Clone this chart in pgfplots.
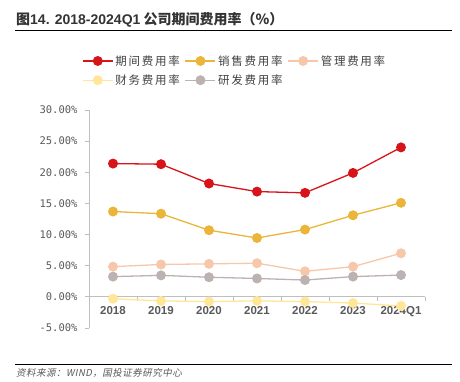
\documentclass[border=0pt]{standalone}
\usepackage{fontspec}
\usepackage{pgfplots}
\pgfplotsset{compat=1.18}
\setmainfont{Noto Sans CJK SC}
\newfontfamily\cjkit[FakeSlant=0.2,LetterSpace=5]{Noto Sans CJK SC}
\newfontfamily\legfont[LetterSpace=15]{Noto Sans CJK SC}
\newfontfamily\titlefont{Liberation Sans}
\newfontfamily\monofont{DejaVu Sans Mono}
\definecolor{cRed}{HTML}{D7141A}
\definecolor{cGold}{HTML}{EBB53A}
\definecolor{cPeach}{HTML}{F7C7A9}
\definecolor{cLYel}{HTML}{FFE699}
\definecolor{cGray}{HTML}{BCB2B2}
\definecolor{axc}{HTML}{BFBFBF}
\definecolor{txt}{HTML}{595959}
\begin{document}
\begin{tikzpicture}[x=1pt,y=1pt]
\path[use as bounding box] (0,0) rectangle (460,-382);
\node[anchor=base west,inner sep=0] at (16,-25) {\fontsize{14}{16}\selectfont\bfseries\color{black!80}图{\titlefont 14. 2018-2024Q1} 公司期间费用率（\%）};
\draw[line width=1pt] (15,-31) -- (452,-31);
\draw[line width=1pt] (15,-364) -- (452,-364);
\node[anchor=west,inner sep=0] at (16,-373) {\fontsize{9.5}{11}\selectfont\color{txt}\cjkit 资料来源：WIND，国投证券研究中心};
\begin{axis}[
  at={(89pt,-328pt)}, anchor=south west,
  scale only axis, width=336pt, height=218pt,
  xmin=-0.5, xmax=6.5, ymin=-5, ymax=30,
  axis x line=middle, axis y line=left,
  axis line style={draw=axc,-,line width=0.8pt},
  xtick={0,...,6}, xticklabels={2018,2019,2020,2021,2022,2023,2024Q1},
  major x tick style={draw=none},
  minor xtick={0.5,1.5,2.5,3.5,4.5,5.5,6.5},
  minor x tick style={draw=axc,line width=0.8pt},
  minor tick length=4pt,
  ytick={-5,0,...,30},
  y tick style={draw=axc,line width=0.8pt},
  major tick length=4pt,
  tick align=outside,
  yticklabel={\pgfmathprintnumber[fixed,fixed zerofill,precision=2]{\tick}\%},
  /pgf/number format/assume math mode=true,
  yticklabel style={font=\monofont\fontsize{10.5}{12}\selectfont, text=txt, xshift=-4pt},
  xticklabel style={font=\titlefont\bfseries\fontsize{11.5}{13}\selectfont, text=txt, yshift=-2pt},
  legend columns=3,
  legend style={at={(-0.03,1.27)}, anchor=north west, draw=none, fill=none,
    font=\legfont\fontsize{11.5}{12}\selectfont, text=black!75,
    /tikz/every even column/.append style={column sep=3pt},
    row sep=4pt},
  legend image code/.code={\draw[#1, mark repeat=2, mark phase=2] plot coordinates {(0pt,0pt) (15pt,0pt) (30pt,0pt)};},
  every axis plot/.append style={line width=1.3pt, mark=*, mark size=4.3pt},
  clip=false,
]
\addplot[cRed, mark options={fill=cRed}] coordinates {(0,21.4)(1,21.3)(2,18.2)(3,16.9)(4,16.7)(5,19.9)(6,24.0)};
\addlegendentry{期间费用率}
\addplot[cGold, mark options={fill=cGold}] coordinates {(0,13.7)(1,13.35)(2,10.7)(3,9.45)(4,10.8)(5,13.1)(6,15.1)};
\addlegendentry{销售费用率}
\addplot[cPeach, mark options={fill=cPeach}] coordinates {(0,4.85)(1,5.2)(2,5.3)(3,5.4)(4,4.1)(5,4.85)(6,7.0)};
\addlegendentry{管理费用率}
\addplot[cLYel, mark options={fill=cLYel}] coordinates {(0,-0.3)(1,-0.65)(2,-0.75)(3,-0.65)(4,-0.75)(5,-1.0)(6,-1.45)};
\addlegendentry{财务费用率}
\addplot[cGray, mark options={fill=cGray}] coordinates {(0,3.25)(1,3.45)(2,3.15)(3,2.95)(4,2.7)(5,3.25)(6,3.5)};
\addlegendentry{研发费用率}
\end{axis}
\end{tikzpicture}
\end{document}
